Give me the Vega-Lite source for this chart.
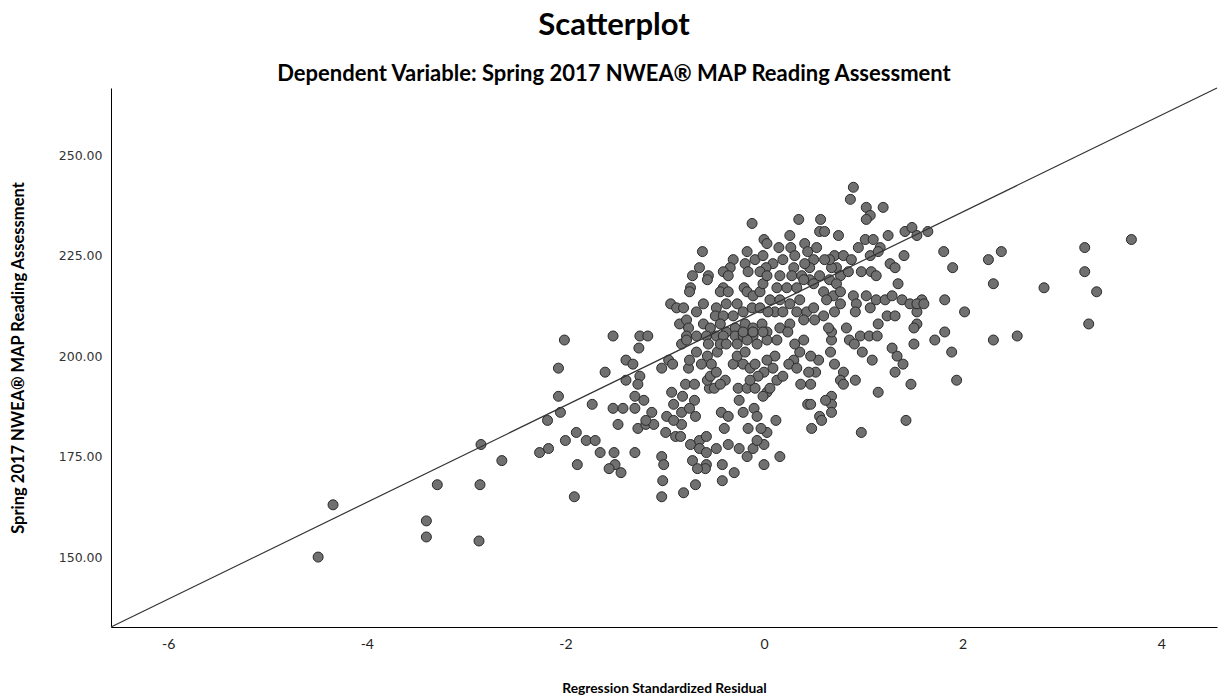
{
  "$schema": "https://vega.github.io/schema/vega-lite/v6.json",
  "width": 1106,
  "height": 539,
  "autosize": {"type": "none"},
  "padding": {"left": 111, "top": 88, "right": 4, "bottom": 71},
  "background": "white",
  "title": {
    "text": "Scatterplot",
    "subtitle": "Dependent Variable: Spring 2017 NWEA® MAP Reading Assessment",
    "anchor": "middle",
    "frame": "group",
    "dx": -50,
    "font": "Lato",
    "fontSize": 31,
    "fontWeight": "bold",
    "color": "#000000",
    "subtitleFont": "Lato",
    "subtitleFontSize": 22,
    "subtitleFontWeight": "bold",
    "subtitleColor": "#000000",
    "subtitlePadding": 22,
    "offset": 0
  },
  "config": {"view": {"stroke": null}},
  "datasets": {
    "pts": [
      {"residual": -4.49, "score": 150}, {"residual": -4.34, "score": 163}, {"residual": -3.40, "score": 159}, {"residual": -3.40, "score": 155},
      {"residual": -3.29, "score": 168}, {"residual": -2.86, "score": 168}, {"residual": -2.87, "score": 154}, {"residual": -2.85, "score": 178},
      {"residual": -2.64, "score": 174}, {"residual": -2.26, "score": 176}, {"residual": -2.17, "score": 177}, {"residual": -2.18, "score": 184},
      {"residual": -2.05, "score": 186}, {"residual": -2.07, "score": 190}, {"residual": -2.07, "score": 197}, {"residual": -2.01, "score": 204},
      {"residual": -1.91, "score": 165}, {"residual": -1.88, "score": 173}, {"residual": -2.00, "score": 179}, {"residual": -1.89, "score": 181},
      {"residual": -1.79, "score": 179}, {"residual": -1.70, "score": 179}, {"residual": -1.65, "score": 176}, {"residual": -1.73, "score": 188},
      {"residual": -1.60, "score": 196}, {"residual": -1.52, "score": 205}, {"residual": -1.52, "score": 187}, {"residual": -1.51, "score": 176},
      {"residual": -1.50, "score": 173}, {"residual": -1.56, "score": 172}, {"residual": -1.47, "score": 183}, {"residual": -1.44, "score": 171},
      {"residual": -1.42, "score": 187}, {"residual": -1.30, "score": 187}, {"residual": -1.30, "score": 176}, {"residual": -1.39, "score": 199},
      {"residual": -1.32, "score": 198}, {"residual": -1.39, "score": 194}, {"residual": -1.30, "score": 190}, {"residual": -1.25, "score": 195},
      {"residual": -1.27, "score": 193}, {"residual": -1.21, "score": 189}, {"residual": -1.27, "score": 182}, {"residual": -1.19, "score": 183},
      {"residual": -1.11, "score": 183}, {"residual": -1.13, "score": 186}, {"residual": -1.19, "score": 184}, {"residual": -1.03, "score": 175},
      {"residual": -1.01, "score": 173}, {"residual": -1.02, "score": 169}, {"residual": -1.03, "score": 165}, {"residual": -0.81, "score": 166},
      {"residual": -0.69, "score": 168}, {"residual": -1.03, "score": 197}, {"residual": -0.96, "score": 199}, {"residual": -0.92, "score": 198},
      {"residual": -0.93, "score": 191}, {"residual": -0.91, "score": 188}, {"residual": -0.82, "score": 190}, {"residual": -0.83, "score": 186},
      {"residual": -0.70, "score": 189}, {"residual": -0.75, "score": 187}, {"residual": -0.69, "score": 185}, {"residual": -0.83, "score": 183},
      {"residual": -0.98, "score": 185}, {"residual": -0.91, "score": 184}, {"residual": -0.99, "score": 181}, {"residual": -0.89, "score": 180},
      {"residual": -0.84, "score": 180}, {"residual": -0.74, "score": 178}, {"residual": -0.65, "score": 179}, {"residual": -0.58, "score": 180},
      {"residual": -0.65, "score": 177}, {"residual": -0.72, "score": 174}, {"residual": -0.58, "score": 173}, {"residual": -0.59, "score": 172},
      {"residual": -0.67, "score": 172}, {"residual": -0.58, "score": 176}, {"residual": -0.42, "score": 173}, {"residual": -0.42, "score": 169},
      {"residual": -0.30, "score": 171}, {"residual": -0.48, "score": 177}, {"residual": -0.36, "score": 178}, {"residual": -0.25, "score": 177},
      {"residual": -0.17, "score": 175}, {"residual": -0.11, "score": 177}, {"residual": 0.00, "score": 178}, {"residual": 0.00, "score": 173},
      {"residual": 0.16, "score": 175}, {"residual": -0.07, "score": 179}, {"residual": 0.03, "score": 181}, {"residual": -0.03, "score": 182},
      {"residual": -0.16, "score": 182}, {"residual": 0.12, "score": 184}, {"residual": -0.40, "score": 182}, {"residual": -0.43, "score": 186},
      {"residual": -0.36, "score": 185}, {"residual": -0.25, "score": 189}, {"residual": -0.21, "score": 186}, {"residual": -0.10, "score": 187},
      {"residual": -0.07, "score": 185}, {"residual": -0.79, "score": 193}, {"residual": -0.70, "score": 193}, {"residual": -0.55, "score": 192},
      {"residual": -0.50, "score": 192}, {"residual": -0.57, "score": 194}, {"residual": -0.39, "score": 194}, {"residual": -0.26, "score": 192},
      {"residual": -0.17, "score": 192}, {"residual": -0.09, "score": 192}, {"residual": 0.03, "score": 191},
      {"residual": 1.89, "score": 201}, {"residual": 1.94, "score": 194}, {"residual": 1.48, "score": 193}, {"residual": 1.43, "score": 184},
      {"residual": 0.98, "score": 181}, {"residual": 1.15, "score": 191}, {"residual": 1.32, "score": 196}, {"residual": 1.40, "score": 198},
      {"residual": 1.34, "score": 200}, {"residual": 1.09, "score": 199}, {"residual": 0.99, "score": 201}, {"residual": 0.92, "score": 194},
      {"residual": 0.80, "score": 196}, {"residual": 0.71, "score": 198}, {"residual": 0.77, "score": 194}, {"residual": 0.80, "score": 193},
      {"residual": 0.67, "score": 201}, {"residual": 0.55, "score": 199}, {"residual": 0.47, "score": 200}, {"residual": 0.52, "score": 196},
      {"residual": 0.45, "score": 196}, {"residual": 0.47, "score": 193}, {"residual": 0.37, "score": 193}, {"residual": 0.68, "score": 190},
      {"residual": 0.68, "score": 188}, {"residual": 0.62, "score": 189}, {"residual": 0.68, "score": 186}, {"residual": 0.56, "score": 185},
      {"residual": 0.58, "score": 184}, {"residual": 0.48, "score": 182}, {"residual": 0.44, "score": 188}, {"residual": 0.47, "score": 188},
      {"residual": 1.51, "score": 203}, {"residual": 1.29, "score": 202}, {"residual": 0.97, "score": 205}, {"residual": 1.06, "score": 205},
      {"residual": 1.14, "score": 205}, {"residual": 0.86, "score": 204}, {"residual": 0.91, "score": 203}, {"residual": 0.68, "score": 204},
      {"residual": 0.68, "score": 206}, {"residual": 0.30, "score": 199}, {"residual": 0.36, "score": 201}, {"residual": 0.25, "score": 198},
      {"residual": 0.33, "score": 197}, {"residual": 0.31, "score": 203}, {"residual": 0.40, "score": 204}, {"residual": 0.13, "score": 204},
      {"residual": 0.11, "score": 200}, {"residual": 0.09, "score": 197}, {"residual": 0.13, "score": 194}, {"residual": 0.19, "score": 195},
      {"residual": 0.06, "score": 192},
      {"residual": 3.70, "score": 229}, {"residual": 3.23, "score": 227}, {"residual": 3.23, "score": 221}, {"residual": 3.35, "score": 216},
      {"residual": 3.27, "score": 208}, {"residual": 2.82, "score": 217}, {"residual": 2.39, "score": 226}, {"residual": 2.26, "score": 224},
      {"residual": 2.31, "score": 218}, {"residual": 2.31, "score": 204}, {"residual": 2.55, "score": 205}, {"residual": 2.02, "score": 211},
      {"residual": 1.81, "score": 226}, {"residual": 1.90, "score": 222}, {"residual": 1.82, "score": 214}, {"residual": 1.82, "score": 206},
      {"residual": 1.72, "score": 204}, {"residual": 1.65, "score": 231},
      {"residual": 0.90, "score": 242}, {"residual": 0.87, "score": 239}, {"residual": 1.03, "score": 237}, {"residual": 1.20, "score": 237},
      {"residual": 1.07, "score": 235}, {"residual": 1.03, "score": 234}, {"residual": 0.35, "score": 234}, {"residual": 0.57, "score": 234},
      {"residual": 0.56, "score": 231}, {"residual": 0.61, "score": 231}, {"residual": 0.75, "score": 230}, {"residual": 0.26, "score": 230},
      {"residual": 1.25, "score": 230}, {"residual": 1.42, "score": 231}, {"residual": 1.49, "score": 232}, {"residual": 1.54, "score": 230},
      {"residual": 1.41, "score": 225}, {"residual": 1.02, "score": 229}, {"residual": 1.10, "score": 229}, {"residual": 0.95, "score": 227},
      {"residual": 1.17, "score": 227}, {"residual": 1.07, "score": 225}, {"residual": 1.15, "score": 226}, {"residual": 1.27, "score": 223},
      {"residual": 1.32, "score": 222}, {"residual": 0.98, "score": 221}, {"residual": 1.08, "score": 221}, {"residual": 1.13, "score": 220},
      {"residual": 1.35, "score": 218}, {"residual": 0.15, "score": 227}, {"residual": 0.27, "score": 227}, {"residual": 0.41, "score": 228},
      {"residual": 0.44, "score": 226}, {"residual": 0.53, "score": 227}, {"residual": 0.31, "score": 225}, {"residual": 0.19, "score": 224},
      {"residual": 0.09, "score": 223}, {"residual": 0.71, "score": 225}, {"residual": 0.80, "score": 225}, {"residual": 0.88, "score": 224},
      {"residual": 0.73, "score": 222}, {"residual": 0.68, "score": 222}, {"residual": 0.66, "score": 224}, {"residual": 0.61, "score": 224},
      {"residual": 0.50, "score": 224}, {"residual": 0.46, "score": 222}, {"residual": 0.41, "score": 223}, {"residual": 0.30, "score": 222},
      {"residual": 0.16, "score": 220}, {"residual": 0.28, "score": 220}, {"residual": 0.38, "score": 220}, {"residual": 0.46, "score": 219},
      {"residual": 0.56, "score": 220}, {"residual": 0.66, "score": 219}, {"residual": 0.77, "score": 220}, {"residual": 0.73, "score": 218},
      {"residual": 0.85, "score": 221},
      {"residual": 0.13, "score": 217}, {"residual": 0.23, "score": 217}, {"residual": 0.33, "score": 217}, {"residual": 0.40, "score": 219},
      {"residual": 0.50, "score": 218}, {"residual": 0.60, "score": 216}, {"residual": 0.70, "score": 215}, {"residual": 0.77, "score": 216},
      {"residual": 0.63, "score": 214}, {"residual": 0.77, "score": 213}, {"residual": 0.90, "score": 215}, {"residual": 0.93, "score": 213},
      {"residual": 0.92, "score": 211}, {"residual": 1.03, "score": 215}, {"residual": 1.07, "score": 212}, {"residual": 1.13, "score": 214},
      {"residual": 1.22, "score": 214}, {"residual": 1.29, "score": 215}, {"residual": 1.39, "score": 214}, {"residual": 1.47, "score": 213},
      {"residual": 1.54, "score": 211}, {"residual": 1.24, "score": 210}, {"residual": 1.32, "score": 210}, {"residual": 1.15, "score": 208},
      {"residual": 1.54, "score": 208}, {"residual": 0.06, "score": 214}, {"residual": 0.16, "score": 214}, {"residual": 0.26, "score": 213},
      {"residual": 0.36, "score": 214}, {"residual": 0.11, "score": 211}, {"residual": 0.19, "score": 211}, {"residual": 0.33, "score": 211},
      {"residual": 0.43, "score": 211}, {"residual": 0.50, "score": 212}, {"residual": 0.40, "score": 209}, {"residual": 0.51, "score": 209},
      {"residual": 0.60, "score": 210}, {"residual": 0.71, "score": 211}, {"residual": 0.65, "score": 207}, {"residual": 0.26, "score": 208},
      {"residual": 0.16, "score": 207}, {"residual": 0.24, "score": 206}, {"residual": 0.83, "score": 207},
      {"residual": 1.59, "score": 214}, {"residual": 1.54, "score": 213}, {"residual": 1.61, "score": 213}, {"residual": 1.51, "score": 207},
      {"residual": -0.12, "score": 233}, {"residual": -0.62, "score": 226}, {"residual": 0.00, "score": 229}, {"residual": 0.03, "score": 228},
      {"residual": -0.17, "score": 226}, {"residual": -0.09, "score": 224}, {"residual": -0.01, "score": 225}, {"residual": 0.02, "score": 222},
      {"residual": -0.04, "score": 221}, {"residual": -0.31, "score": 224}, {"residual": -0.34, "score": 222}, {"residual": -0.41, "score": 221},
      {"residual": -0.36, "score": 220}, {"residual": -0.19, "score": 223}, {"residual": -0.16, "score": 221}, {"residual": -0.65, "score": 222},
      {"residual": -0.72, "score": 220}, {"residual": -0.56, "score": 220}, {"residual": -0.57, "score": 219}, {"residual": -0.74, "score": 217},
      {"residual": -0.75, "score": 216}, {"residual": -0.41, "score": 217}, {"residual": -0.44, "score": 216}, {"residual": -0.36, "score": 216},
      {"residual": -0.20, "score": 217}, {"residual": -0.17, "score": 216}, {"residual": -0.11, "score": 215}, {"residual": -0.04, "score": 216},
      {"residual": -0.01, "score": 218}, {"residual": 0.03, "score": 220}, {"residual": -0.94, "score": 213}, {"residual": -0.88, "score": 212},
      {"residual": -0.81, "score": 212}, {"residual": -0.61, "score": 213}, {"residual": -0.68, "score": 211}, {"residual": -0.48, "score": 212},
      {"residual": -0.49, "score": 210}, {"residual": -0.38, "score": 213}, {"residual": -0.27, "score": 213}, {"residual": -0.41, "score": 210},
      {"residual": -0.31, "score": 210}, {"residual": -0.21, "score": 211}, {"residual": -0.12, "score": 212}, {"residual": -0.04, "score": 212},
      {"residual": 0.04, "score": 211}, {"residual": -0.85, "score": 208}, {"residual": -0.78, "score": 209}, {"residual": -0.76, "score": 207},
      {"residual": -0.61, "score": 208}, {"residual": -0.54, "score": 207}, {"residual": -0.44, "score": 208}, {"residual": -0.38, "score": 206},
      {"residual": -0.29, "score": 207}, {"residual": -0.19, "score": 208}, {"residual": -0.11, "score": 207}, {"residual": -0.02, "score": 208},
      {"residual": 0.03, "score": 206}, {"residual": -1.25, "score": 205}, {"residual": -1.17, "score": 205}, {"residual": -0.78, "score": 205},
      {"residual": -0.68, "score": 205}, {"residual": -0.58, "score": 205}, {"residual": -0.48, "score": 205}, {"residual": -0.41, "score": 205},
      {"residual": -0.29, "score": 205}, {"residual": -0.21, "score": 205}, {"residual": -0.11, "score": 205},
      {"residual": -1.26, "score": 202}, {"residual": -0.83, "score": 203}, {"residual": -0.78, "score": 204}, {"residual": -0.76, "score": 197},
      {"residual": -0.68, "score": 201}, {"residual": -0.57, "score": 200}, {"residual": -0.75, "score": 199}, {"residual": -0.63, "score": 198},
      {"residual": -0.53, "score": 198}, {"residual": -0.47, "score": 201}, {"residual": -0.44, "score": 203}, {"residual": -0.56, "score": 203},
      {"residual": -0.54, "score": 195}, {"residual": -0.48, "score": 196}, {"residual": -0.44, "score": 193}, {"residual": -0.31, "score": 198},
      {"residual": -0.27, "score": 200}, {"residual": -0.19, "score": 201}, {"residual": -0.21, "score": 198}, {"residual": -0.14, "score": 197},
      {"residual": -0.09, "score": 198}, {"residual": 0.03, "score": 199}, {"residual": 0.00, "score": 196}, {"residual": -0.06, "score": 195},
      {"residual": -0.14, "score": 194}, {"residual": -0.01, "score": 190}, {"residual": -0.38, "score": 203}, {"residual": -0.27, "score": 203},
      {"residual": -0.17, "score": 204}, {"residual": -0.07, "score": 203}, {"residual": 0.03, "score": 204}, {"residual": -0.21, "score": 206},
      {"residual": -0.11, "score": 206}, {"residual": -0.01, "score": 206}
    ],
    "fit": [
      {"residual": -6.576, "score": 132.6},
      {"residual": 4.562, "score": 266.7}
    ]
  },
  "layer": [
    {
      "data": {"name": "pts"},
      "mark": {"type": "circle", "size": 100, "fill": "#707070", "stroke": "#2a2a2a", "strokeWidth": 1, "opacity": 1, "fillOpacity": 1},
      "encoding": {
        "x": {
          "field": "residual", "type": "quantitative",
          "scale": {"domain": [-6.576, 4.562], "nice": false, "zero": false},
          "axis": {
            "title": "Regression Standardized Residual",
            "values": [-6, -4, -2, 0, 2, 4],
            "labelExpr": "'' + datum.value",
            "ticks": false, "grid": false,
            "domainColor": "#000000", "domainWidth": 1,
            "labelFont": "Lato", "labelFontSize": 14, "labelColor": "#222222", "labelPadding": 10,
            "titleFont": "Lato", "titleFontSize": 13.8, "titleFontWeight": "bold", "titleColor": "#000000", "titlePadding": 30
          }
        },
        "y": {
          "field": "score", "type": "quantitative",
          "scale": {"domain": [132.6, 266.7], "nice": false, "zero": false},
          "axis": {
            "title": "Spring 2017 NWEA® MAP Reading Assessment",
            "values": [150, 175, 200, 225, 250],
            "format": ".2f",
            "ticks": false, "grid": false,
            "domainColor": "#000000", "domainWidth": 1,
            "labelFont": "DejaVu Sans", "labelFontSize": 12.5, "labelColor": "#333333", "labelPadding": 9,
            "titleFont": "Lato", "titleFontSize": 16.5, "titleFontWeight": "bold", "titleColor": "#000000", "titlePadding": 32
          }
        }
      }
    },
    {
      "data": {"name": "fit"},
      "mark": {"type": "line", "color": "#333333", "strokeWidth": 1.2},
      "encoding": {
        "x": {"field": "residual", "type": "quantitative"},
        "y": {"field": "score", "type": "quantitative"}
      }
    }
  ]
}
